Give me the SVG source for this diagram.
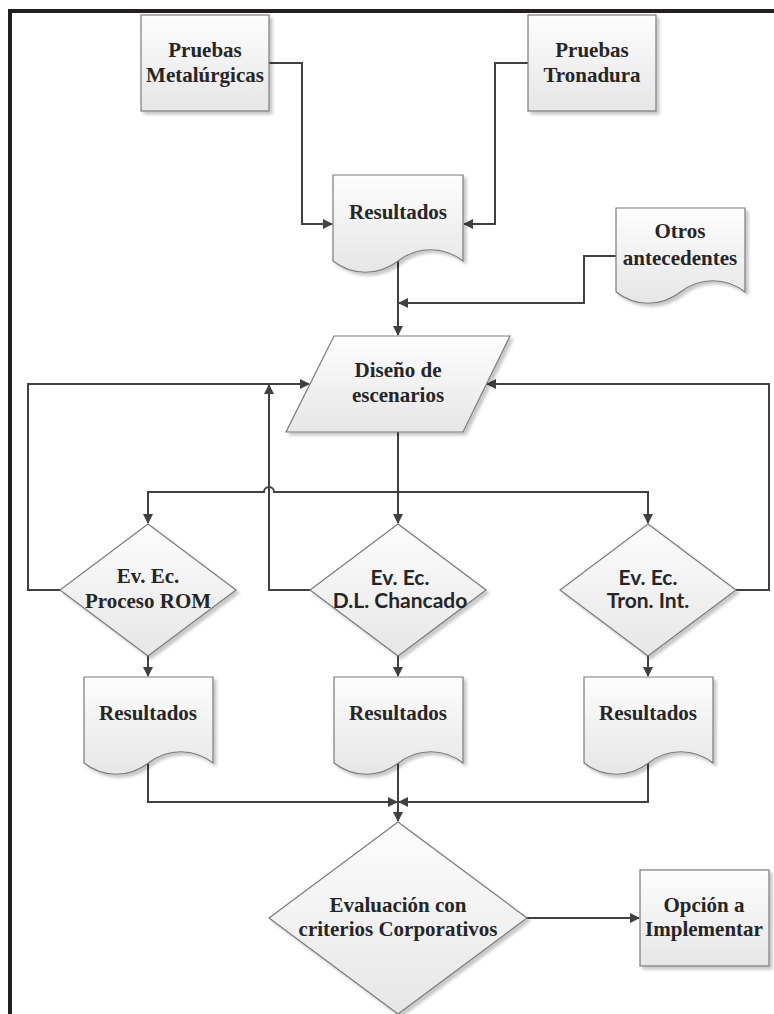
<svg xmlns="http://www.w3.org/2000/svg" width="774" height="1014" viewBox="0 0 774 1014">
<defs>
<linearGradient id="g" x1="0" y1="0" x2="0" y2="1">
<stop offset="0" stop-color="#fdfdfd"/>
<stop offset="1" stop-color="#e6e6e6"/>
</linearGradient>
<filter id="sh" x="-10%" y="-10%" width="130%" height="130%">
<feDropShadow dx="3" dy="3" stdDeviation="1.5" flood-color="#000" flood-opacity="0.22"/>
</filter>
<marker id="ar" viewBox="0 0 10 10" refX="9" refY="5" markerWidth="12" markerHeight="10" markerUnits="userSpaceOnUse" orient="auto">
<path d="M0,0 L10,5 L0,10 Z" fill="#404040"/>
</marker>
<style>
.n{fill:url(#g);stroke:#7a7a7a;stroke-width:1.2;filter:url(#sh)}
.t{font-family:"Liberation Serif","Times New Roman",serif;font-weight:bold;font-size:21px;fill:#262626;text-anchor:middle}
.s{font-family:Lato,"Liberation Sans",sans-serif;font-weight:bold;font-size:21px;fill:#262626;text-anchor:middle}
.c{fill:none;stroke:#404040;stroke-width:2}
.a{marker-end:url(#ar)}
</style>
</defs>
<rect width="774" height="1014" fill="#fff"/>
<g id="frame" stroke="#231f20" stroke-width="4" fill="none">
<path d="M8,11 H774 M10,9 V1014"/>
</g>
<g id="connectors" class="c">
<path class="a" d="M269,63 H302 V224 H332"/>
<path class="a" d="M528,63 H495 V224 H464"/>
<path class="a" d="M398,261 V335"/>
<path class="a" d="M616,256 H584 V303 H399"/>
<path class="a" d="M398,432 V523"/>
<path class="a" d="M398,492 H648 V523"/>
<path class="a" d="M398,492 H274 A5,5 0 0 0 264,492 H148 V523"/>
<path class="a" d="M60,590 H28 V384 H309"/>
<path class="a" d="M310,590 H269 V385"/>
<path class="a" d="M736,590 H769 V384 H487"/>
<path class="a" d="M148,656 V676"/>
<path class="a" d="M398,656 V676"/>
<path class="a" d="M648,656 V676"/>
<path class="a" d="M148,763 V802 H397"/>
<path class="a" d="M648,763 V802 H399"/>
<path class="a" d="M398,763 V821"/>
<path class="a" d="M527,918 H639"/>
</g>
<g id="pruebas-metalurgicas">
<rect class="n" x="141" y="15" width="128" height="96"/>
<text class="t" x="205" y="57">Pruebas</text>
<text class="t" x="205" y="82">Metalúrgicas</text>
</g>
<g id="pruebas-tronadura">
<rect class="n" x="528" y="15" width="128" height="96"/>
<text class="t" x="592" y="57">Pruebas</text>
<text class="t" x="592" y="82">Tronadura</text>
</g>
<g id="resultados-top">
<path class="n" d="M333,175 H463 V261 C443.5,246 417.5,246 398,261 C378.5,276 352.5,276 333,261 Z"/>
<text class="t" x="398" y="219">Resultados</text>
</g>
<g id="otros-antecedentes">
<path class="n" d="M616,208 H745 V292 C725.6,277 700,277 680.5,292 C661,307 635.4,307 616,292 Z"/>
<text class="t" x="680" y="238">Otros</text>
<text class="t" x="680" y="265">antecedentes</text>
</g>
<g id="diseno-escenarios">
<polygon class="n" points="334,336 510,336 463,432 286,432"/>
<text class="t" x="398" y="377">Diseño de</text>
<text class="t" x="398" y="402">escenarios</text>
</g>
<g id="ev-rom">
<polygon class="n" points="148,524 236,590 148,656 60,590"/>
<text class="t" x="148" y="583">Ev. Ec.</text>
<text class="t" x="148" y="608">Proceso ROM</text>
</g>
<g id="ev-chancado">
<polygon class="n" points="398,524 486,590 398,656 310,590"/>
<text class="s" x="400" y="585">Ev. Ec.</text>
<text class="s" x="400" y="608">D.L. Chancado</text>
</g>
<g id="ev-tron">
<polygon class="n" points="648,524 736,590 648,656 560,590"/>
<text class="s" x="648" y="585">Ev. Ec.</text>
<text class="s" x="648" y="608">Tron. Int.</text>
</g>
<g id="resultados-rom">
<path class="n" d="M84,677 H213 V763 C193.6,748 168,748 148.5,763 C129,778 103.4,778 84,763 Z"/>
<text class="t" x="148" y="720">Resultados</text>
</g>
<g id="resultados-chancado">
<path class="n" d="M334,677 H463 V763 C443.6,748 418,748 398.5,763 C379,778 353.4,778 334,763 Z"/>
<text class="t" x="398" y="720">Resultados</text>
</g>
<g id="resultados-tron">
<path class="n" d="M584,677 H713 V763 C693.6,748 668,748 648.5,763 C629,778 603.4,778 584,763 Z"/>
<text class="t" x="648" y="720">Resultados</text>
</g>
<g id="evaluacion">
<polygon class="n" points="398,822 527,918 398,1014 269,918"/>
<text class="t" x="398" y="912">Evaluación con</text>
<text class="t" x="398" y="936">criterios Corporativos</text>
</g>
<g id="opcion">
<rect class="n" x="640" y="870" width="129" height="96"/>
<text class="t" x="704" y="912">Opción a</text>
<text class="t" x="704" y="936">Implementar</text>
</g>
</svg>
